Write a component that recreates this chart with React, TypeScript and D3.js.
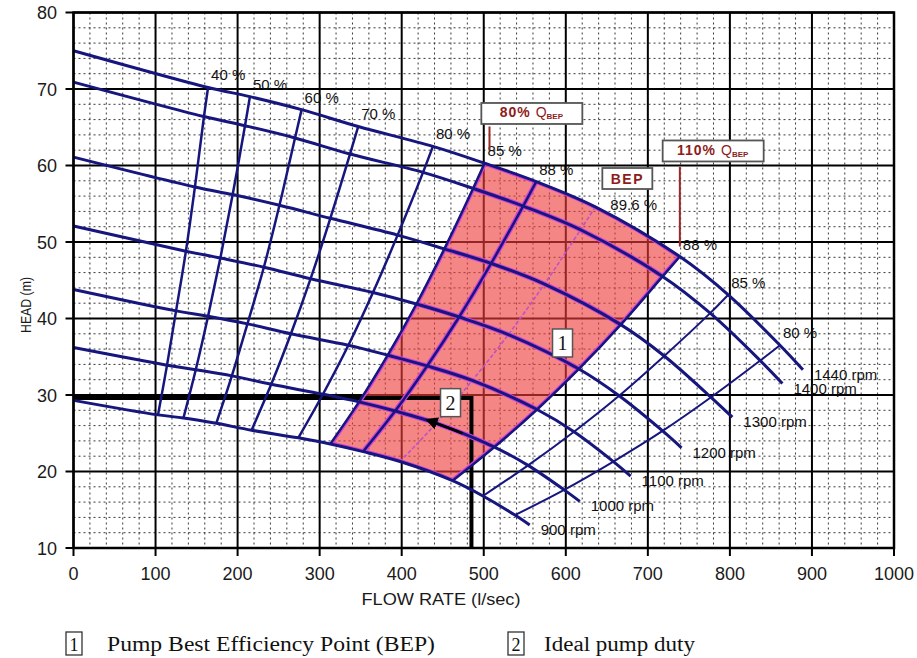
import React from "react";
import * as d3 from "d3";

// pump speeds, one head curve each
const speeds = ["1440 rpm", "1400 rpm", "1300 rpm", "1200 rpm", "1100 rpm", "1000 rpm", "900 rpm"];

// points: start, 40, 50, 60, 70, 80, 85, 88, BEP, 88, 85, 80 %, end
const flow1440 = [0, 164, 215, 278, 347, 438, 501, 564, 636, 739, 798, 861, 889];
const head1440 = [75.0, 70.2, 69.0, 67.3, 65.1, 62.5, 60.3, 57.9, 54.6, 48.1, 43.1, 36.5, 33.3];
const flow1400 = [0, 159, 209, 270, 337, 426, 487, 548, 618, 718, 776, 837, 864];
const head1400 = [70.9, 66.4, 65.2, 63.6, 61.5, 59.1, 57.0, 54.7, 51.6, 45.5, 40.7, 34.5, 31.5];
const flow1300 = [0, 148, 194, 251, 313, 395, 452, 509, 574, 667, 720, 777, 803];
const head1300 = [61.1, 57.2, 56.2, 54.8, 53.1, 50.9, 49.1, 47.2, 44.5, 39.2, 35.1, 29.7, 27.1];
const flow1200 = [0, 137, 179, 232, 289, 365, 418, 470, 530, 616, 665, 718, 741];
const head1200 = [52.1, 48.8, 47.9, 46.7, 45.2, 43.4, 41.9, 40.2, 37.9, 33.4, 29.9, 25.3, 23.1];
const flow1100 = [0, 125, 164, 212, 265, 335, 383, 431, 486, 565, 610, 658, 679];
const head1100 = [43.8, 41.0, 40.3, 39.3, 38.0, 36.5, 35.2, 33.8, 31.9, 28.1, 25.2, 21.3, 19.4];
const flow1000 = [0, 114, 149, 193, 241, 304, 348, 392, 442, 513, 554, 598, 617];
const head1000 = [36.2, 33.9, 33.3, 32.5, 31.4, 30.1, 29.1, 27.9, 26.3, 23.2, 20.8, 17.6, 16.1];
const flow900 = [0, 103, 134, 174, 217, 274, 313, 353, 398, 462, 499, 538, 556];
const head900 = [29.3, 27.4, 27.0, 26.3, 25.4, 24.4, 23.6, 22.6, 21.3, 18.8, 16.8, 14.3, 13.0];

const flows = [flow1440, flow1400, flow1300, flow1200, flow1100, flow1000, flow900];
const heads = [head1440, head1400, head1300, head1200, head1100, head1000, head900];

// iso-efficiency lines, by point index on the curves above
const effLabels = ["40 %", "50 %", "60 %", "70 %", "80 %", "85 %", "88 %", "89.6 %", "88 %", "85 %", "80 %"];

const xTicks = [0, 100, 200, 300, 400, 500, 600, 700, 800, 900, 1000];
const yTicks = [10, 20, 30, 40, 50, 60, 70, 80];

// ideal duty point
const dutyQ = 485;
const dutyH = 29.6;

// callouts
const qBepBoxes = [
  { pct: "80%", q: 558, h: 66.8, lineQ: 507, lineTop: 65.1, lineBottom: 62.1 },
  { pct: "110%", q: 779, h: 61.9, lineQ: 739, lineTop: 59.8, lineBottom: 49.4 },
];
const bepBox = { q: 675, h: 58.3 };
const markers = [
  { n: "1", q: 596, h: 36.8 },
  { n: "2", q: 459.5, h: 29.0 },
];

const W = 917;
const H = 658;
const navy = "#16167e";
const darkRed = "#8e1c1c";

const App = () => {
  const x = d3.scaleLinear().domain([0, 1000]).range([73.5, 894]);
  const y = d3.scaleLinear().domain([10, 80]).range([548, 12.5]);

  const line = d3.line<number[]>()
    .x(d => x(d[0]))
    .y(d => y(d[1]))
    .curve(d3.curveCatmullRom.alpha(0.5));

  const curves = speeds.map((s, i) => ({
    label: s,
    pts: flows[i].map((q, j) => [q, heads[i][j]]),
  }));
  const effLine = (k: number) => curves.map(c => c.pts[k]);

  // shaded operating region: 85 % left line, 900 rpm, 88 % right line, 1440 rpm
  const sides = [
    effLine(6),
    curves[6].pts.slice(6, 10),
    effLine(9).reverse(),
    curves[0].pts.slice(6, 10).reverse(),
  ];
  const zone = sides.map((s, i) => {
    const p = line(s) as string;
    return i === 0 ? p : "L" + p.slice(1);
  }).join("") + "Z";

  const minorX = d3.range(0, 1001, 20).filter(v => v % 100 !== 0);
  const minorY = d3.range(10, 81, 2).filter(v => v % 10 !== 0);

  const sans = "'Liberation Sans', Arial, sans-serif";
  const serif = "'Liberation Serif', 'Times New Roman', serif";

  return (
    <svg width={W} height={H} style={{position: "absolute", left: 0, top: 0}}>
      <rect width={W} height={H} fill="#fff"/>
      <defs>
        <clipPath id="zoneClip">
          <path d={zone}/>
        </clipPath>
        <marker id="arrow" viewBox="0 0 10 10" refX="2" refY="5" markerWidth="5" markerHeight="5" orient="auto-start-reverse">
          <path d="M0,0 L10,5 L0,10 Z" fill="#000"/>
        </marker>
      </defs>

      {/* minor grid */}
      <g stroke="#3a3a3a" strokeWidth={1} strokeDasharray="2,3">
        {minorX.map(v => <line key={"mx" + v} x1={x(v)} x2={x(v)} y1={y(80)} y2={y(10)}/>)}
        {minorY.map(v => <line key={"my" + v} x1={x(0)} x2={x(1000)} y1={y(v)} y2={y(v)}/>)}
      </g>
      {/* major grid + ticks */}
      <g stroke="#000" strokeWidth={2}>
        {xTicks.map(v => <line key={"gx" + v} x1={x(v)} x2={x(v)} y1={y(80)} y2={y(10) + 8}/>)}
        {yTicks.map(v => <line key={"gy" + v} x1={x(0) - 8} x2={x(1000)} y1={y(v)} y2={y(v)}/>)}
      </g>

      {/* operating zone */}
      <path d={zone} fill="#ee3c3c" fillOpacity={0.62} stroke="#c03cc8" strokeWidth={1.5}/>

      {/* duty point lines */}
      <g stroke="#000" strokeWidth={4}>
        <line x1={x(0)} x2={x(dutyQ)} y1={y(dutyH)} y2={y(dutyH)}/>
        <line x1={x(dutyQ)} x2={x(dutyQ)} y1={y(dutyH) - 2} y2={y(10)}/>
      </g>

      {/* magenta edges inside the zone */}
      <g clipPath="url(#zoneClip)" fill="none" stroke="#d044d8" strokeWidth={5}>
        {curves.map(c => <path key={"h" + c.label} d={line(c.pts) as string}/>)}
        {[6, 7, 9].map(k => <path key={"he" + k} d={line(effLine(k)) as string}/>)}
      </g>

      {/* iso-efficiency lines */}
      <g fill="none" stroke={navy}>
        {[1, 2, 3, 4, 5, 6, 7, 9].map(k => (
          <path key={"e" + k} d={line(effLine(k)) as string} strokeWidth={2.5}/>
        ))}
        {[10, 11].map(k => (
          <path key={"e" + k} d={line(effLine(k)) as string} strokeWidth={2}/>
        ))}
      </g>
      <path d={line(effLine(8)) as string} fill="none" stroke="#c050c8" strokeWidth={1.6} strokeDasharray="4,2"/>

      {/* head curves */}
      <g fill="none" stroke={navy} strokeWidth={3}>
        {curves.map(c => <path key={c.label} d={line(c.pts) as string}/>)}
      </g>

      {/* efficiency labels */}
      <g fontFamily={sans} fontSize={15} fill="#111">
        {effLabels.map((t, i) => {
          const k = i + 1;
          const p = curves[0].pts[k];
          const dx = k === 8 ? 15 : 3;
          const dy = k === 8 ? 3 : -7;
          return <text key={"el" + k} x={x(p[0]) + dx} y={y(p[1]) + dy}>{t}</text>;
        })}
      </g>

      {/* speed labels */}
      <g fontFamily={sans} fontSize={15} fill="#111">
        {curves.map(c => {
          const p = c.pts[c.pts.length - 1];
          return <text key={"sl" + c.label} x={x(p[0]) + 11} y={y(p[1]) + 10}>{c.label}</text>;
        })}
      </g>

      {/* Q_BEP callouts */}
      {qBepBoxes.map(b => (
        <g key={b.pct}>
          <line x1={x(b.lineQ)} x2={x(b.lineQ)} y1={y(b.lineTop)} y2={y(b.lineBottom)} stroke="#9a2a2a" strokeWidth={2}/>
          <rect x={x(b.q) - 50} y={y(b.h) - 10.5} width={101} height={21} fill="#fff" stroke="#555" strokeWidth={1.8}/>
          <text x={x(b.q)} y={y(b.h) + 4} textAnchor="middle" fill={darkRed} fontFamily={sans}>
            <tspan fontWeight="bold" fontSize={14} letterSpacing={1}>{b.pct}</tspan>
            <tspan fontSize={14} dx={5}>Q</tspan>
            <tspan fontWeight="bold" fontSize={8} dy={2}>BEP</tspan>
          </text>
        </g>
      ))}
      <rect x={x(bepBox.q) - 25} y={y(bepBox.h) - 10.5} width={50} height={21} fill="#fff" stroke="#555" strokeWidth={1.8}/>
      <text x={x(bepBox.q)} y={y(bepBox.h) + 5} textAnchor="middle" fill={darkRed} fontFamily={sans}
            fontWeight="bold" fontSize={14} letterSpacing={1.5}>BEP</text>

      {/* pointer to duty point */}
      <line x1={x(474)} y1={y(25.0)} x2={x(440)} y2={y(26.4)} stroke="#000" strokeWidth={2.5} markerEnd="url(#arrow)"/>

      {/* numbered markers */}
      {markers.map(m => (
        <g key={"m" + m.n}>
          <rect x={x(m.q) - 10} y={y(m.h) - 14} width={20} height={28} fill="#fff" stroke="#555" strokeWidth={1.5}/>
          <text x={x(m.q)} y={y(m.h) + 7} textAnchor="middle" fontFamily={serif} fontSize={20} fill="#111">{m.n}</text>
        </g>
      ))}

      {/* frame */}
      <rect x={x(0)} y={y(80)} width={x(1000) - x(0)} height={y(10) - y(80)} fill="none" stroke="#000" strokeWidth={2.5}/>

      {/* axes labels */}
      <g fontFamily={sans} fontSize={18} fill="#1a1a1a">
        {xTicks.map(v => (
          <text key={"xt" + v} x={x(v)} y={580} textAnchor="middle">{v}</text>
        ))}
        {yTicks.map(v => (
          <text key={"yt" + v} x={57} y={y(v) + 6.5} textAnchor="end">{v}</text>
        ))}
      </g>
      <text x={441} y={605} textAnchor="middle" fontFamily={sans} fontSize={16} fill="#1a1a1a"
            textLength={159} lengthAdjust="spacingAndGlyphs">FLOW RATE (l/sec)</text>
      <text transform="translate(31,305) rotate(-90)" textAnchor="middle" fontFamily={sans} fontSize={14}
            fill="#1a1a1a" textLength={56} lengthAdjust="spacingAndGlyphs">HEAD (m)</text>

      {/* legend */}
      <g fontFamily={serif} fill="#111">
        <rect x={66} y={632} width={16} height={23} fill="#fff" stroke="#333" strokeWidth={1.3}/>
        <text x={74} y={651} textAnchor="middle" fontSize={18}>1</text>
        <text x={107} y={651} fontSize={20} textLength={328} lengthAdjust="spacingAndGlyphs">Pump  Best Efficiency Point (BEP)</text>
        <rect x={508} y={632} width={16} height={23} fill="#fff" stroke="#333" strokeWidth={1.3}/>
        <text x={516} y={651} textAnchor="middle" fontSize={18}>2</text>
        <text x={544} y={651} fontSize={20} textLength={151} lengthAdjust="spacingAndGlyphs">Ideal pump duty</text>
      </g>
    </svg>
  );
};

export default App;
